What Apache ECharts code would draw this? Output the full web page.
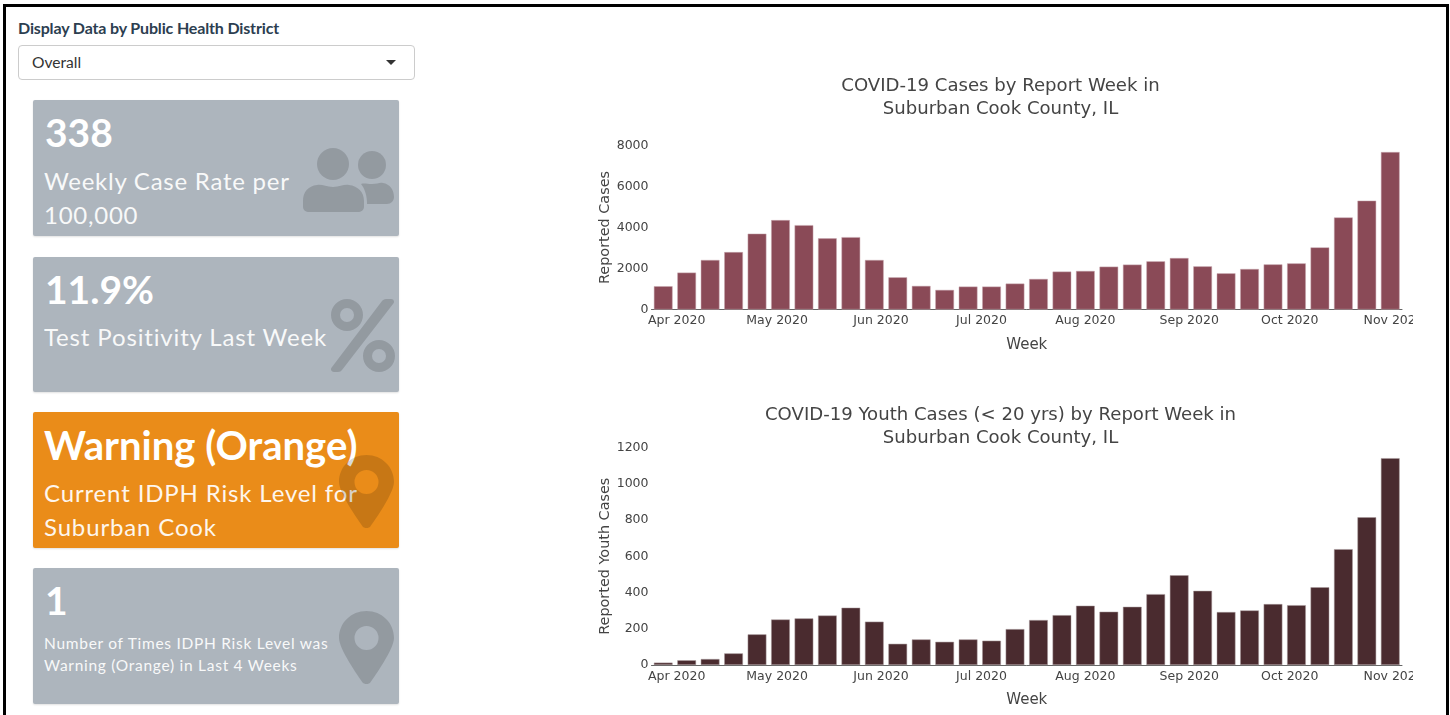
<!DOCTYPE html>
<html>
<head>
<meta charset="utf-8">
<title>Suburban Cook County COVID-19</title>
<script src="https://cdn.jsdelivr.net/npm/echarts@6/dist/echarts.min.js"></script>
<style>
  html, body { margin: 0; padding: 0; background: #fff; }
  body { width: 1450px; height: 715px; position: relative; overflow: hidden; font-family: Lato, sans-serif; }
  #frame { position: absolute; left: 3px; top: 4px; width: 1440px; height: 720px; border: 3px solid #000; }
  #filterLabel { position: absolute; left: 18px; top: 18px; font-size: 16px; font-weight: 700; color: #2c3e50; letter-spacing: -0.15px; white-space: nowrap; }
  #filter { position: absolute; left: 18px; top: 45px; width: 397px; height: 35px; box-sizing: border-box; border: 1px solid #ccc; border-radius: 4px; background: #fff; }
  #filter span { position: absolute; left: 13px; top: 7px; font-size: 15.6px; color: #333; }
  #filter i { position: absolute; left: 367px; top: 14px; border-style: solid; border-width: 5px 5px 0 5px; border-color: #333 transparent transparent transparent; }
  .card { position: absolute; left: 33px; width: 366px; height: 136px; background: #adb5bd; border-radius: 2px; color: #fff; box-shadow: 0 1px 2px rgba(0,0,0,.12); overflow: hidden; }
  .card.orange { background: #ea8c19; }
  .card b { position: absolute; left: 12px; top: 6px; font-size: 39px; line-height: 52px; font-weight: 700; white-space: nowrap; }
  .card p { position: absolute; left: 11px; margin: 0; font-size: 24px; line-height: 33.5px; letter-spacing: 0.85px; opacity: .92; white-space: nowrap; }
  .card svg { position: absolute; fill: rgba(0,0,0,.15); }
  #chart1 { position: absolute; left: 590px; top: 70px; width: 823px; height: 290px; }
  #chart2 { position: absolute; left: 590px; top: 400px; width: 823px; height: 315px; }
</style>
</head>
<body>
<div id="frame"></div>
<div id="filterLabel">Display Data by Public Health District</div>
<div id="filter"><span>Overall</span><i></i></div>

<div class="card" style="top:100px">
  <b>338</b>
  <p style="top:64px;letter-spacing:0.75px">Weekly Case Rate per<br>100,000</p>
  <svg style="left:270px;top:48px" width="92" height="65" viewBox="0 0 92 65">
    <circle cx="30" cy="16" r="16"/>
    <circle cx="69" cy="17" r="14"/>
    <path d="M14 37c5-1 9 2 16 2s11-3 16-2c9 1 15 7 15 16v6c0 3-3 5-6 5H6c-3 0-6-2-6-5v-6c0-9 5-15 14-16z"/>
    <path d="M58 36c3-1 6 0 11 0s8-2 11-1c7 1 11 7 11 14 0 4-3 7-7 7H64c0-8-2-15-6-20z"/>
  </svg>
</div>

<div class="card" style="top:257px;height:135px">
  <b>11.9%</b>
  <p style="top:63px">Test Positivity Last Week</p>
  <svg style="left:298px;top:42px" width="64" height="73" viewBox="0 0 64 73">
    <path fill-rule="evenodd" d="M16 0a16 16 0 1 0 0 32a16 16 0 1 0 0-32zM16 9a7 7 0 1 1 0 14a7 7 0 1 1 0-14z"/>
    <path fill-rule="evenodd" d="M48 41a16 16 0 1 0 0 32a16 16 0 1 0 0-32zM48 50a7 7 0 1 1 0 14a7 7 0 1 1 0-14z"/>
    <path d="M55 0h5c3 0 4 3 2 5L11 71c-1 1-2 2-4 2H3c-3 0-4-3-2-5L51 2c1-1 2-2 4-2z"/>
  </svg>
</div>

<div class="card orange" style="top:412px">
  <b style="top:7px;font-size:40.1px;left:11px">Warning (Orange)</b>
  <p style="top:64px;letter-spacing:0.85px">Current IDPH Risk Level for<br>Suburban Cook</p>
  <svg style="left:306px;top:43px" width="55" height="73" viewBox="0 0 55 73">
    <path fill-rule="evenodd" d="M27.5 0C12 0 0 12 0 27c0 11 19 38 24 45c2 1.500 5 1.500 7 0C36 65 55 38 55 27C55 12 43 0 27.500 0zM27.500 15a12 12 0 1 1 0 24a12 12 0 1 1 0-24z"/>
  </svg>
</div>

<div class="card" style="top:568px">
  <b>1</b>
  <p style="top:64px;font-size:15.5px;line-height:22px;letter-spacing:0.72px">Number of Times IDPH Risk Level was<br>Warning (Orange) in Last 4 Weeks</p>
  <svg style="left:306px;top:43px" width="55" height="73" viewBox="0 0 55 73">
    <path fill-rule="evenodd" d="M27.5 0C12 0 0 12 0 27c0 11 19 38 24 45c2 1.500 5 1.500 7 0C36 65 55 38 55 27C55 12 43 0 27.500 0zM27.500 15a12 12 0 1 1 0 24a12 12 0 1 1 0-24z"/>
  </svg>
</div>

<div id="chart1"></div>
<div id="chart2"></div>

<script>
  // week dates, one per bar
  var weeks = ['2020-03-28','2020-04-04','2020-04-11','2020-04-18','2020-04-25','2020-05-02','2020-05-09','2020-05-16',
    '2020-05-23','2020-05-30','2020-06-06','2020-06-13','2020-06-20','2020-06-27','2020-07-04','2020-07-11',
    '2020-07-18','2020-07-25','2020-08-01','2020-08-08','2020-08-15','2020-08-22','2020-08-29','2020-09-05',
    '2020-09-12','2020-09-19','2020-09-26','2020-10-03','2020-10-10','2020-10-17','2020-10-24','2020-10-31'];
  var reportedCases = [1135,1800,2415,2800,3700,4360,4115,3470,3530,2415,1570,1150,955,1118,1118,1265,
    1490,1850,1880,2090,2190,2350,2510,2105,1765,1976,2200,2250,3030,4490,5310,7680];
  var youthCases = [13,26,33,64,169,251,257,273,316,239,117,141,128,141,134,198,
    248,275,327,294,321,391,495,409,292,301,336,330,429,639,815,1141];
  var monthTicks = ['2020-04-01','2020-05-01','2020-06-01','2020-07-01','2020-08-01','2020-09-01','2020-10-01','2020-11-01'];
  var monthLabels = ['Apr 2020','May 2020','Jun 2020','Jul 2020','Aug 2020','Sep 2020','Oct 2020','Nov 2020'];

  var fontName = '"DejaVu Sans", Verdana, sans-serif';
  var halfWeek = 3.5 * 24 * 3600 * 1000;

  function toTime(s) {
    return Date.parse(s + 'T00:00:00Z');
  }

  function drawChart(id, cfg) {
    var myChart = echarts.init(document.getElementById(id));
    var tickTimes = monthTicks.map(toTime);
    var option = {
      animation: false,
      title: {
        text: cfg.title,
        left: 405.5,
        top: cfg.titleTop,
        textAlign: 'center',
        textStyle: { fontFamily: fontName, fontSize: 18.1, fontWeight: 'normal', color: '#444', lineHeight: 23 }
      },
      // the Nov label runs off the canvas and gets cut, so don't let the grid shrink for it
      grid: { left: 61.5, right: 11, top: cfg.gridTop, height: cfg.gridHeight, outerBoundsMode: 'none' },
      // value axis over timestamps, time axis can't take customValues
      xAxis: {
        type: 'value',
        min: toTime(weeks[0]) - halfWeek,
        max: toTime(weeks[weeks.length - 1]) + halfWeek,
        containShape: false,
        name: 'Week',
        nameLocation: 'middle',
        nameGap: 28,
        nameTextStyle: { fontFamily: fontName, fontSize: 15, color: '#444' },
        axisLine: { show: true, onZero: false, lineStyle: { color: '#666', width: 1 } },
        axisTick: { show: false },
        splitLine: { show: false },
        axisLabel: {
          customValues: tickTimes,
          margin: 5,
          hideOverlap: false,
          fontFamily: fontName,
          fontSize: 12.5,
          color: '#444',
          formatter: function (v) { return monthLabels[tickTimes.indexOf(v)]; }
        }
      },
      yAxis: {
        type: 'value',
        min: 0,
        max: cfg.max,
        interval: cfg.interval,
        name: cfg.yName,
        nameLocation: 'middle',
        nameGap: 39,
        nameMoveOverlap: false,
        nameTextStyle: { fontFamily: fontName, fontSize: 14.4, color: '#444' },
        axisLine: { show: false },
        axisTick: { show: false },
        splitLine: { show: false },
        axisLabel: {
          margin: 3,
          fontFamily: fontName,
          fontSize: 12.5,
          color: '#444',
          formatter: function (v) { return String(v); }
        }
      },
      series: [
        {
          type: 'bar',
          barWidth: 18.7,
          data: weeks.map(function (w, i) { return [toTime(w), cfg.values[i]]; }),
          itemStyle: { color: cfg.color, borderColor: cfg.edge, borderWidth: 0.5 }
        }
      ]
    };
    myChart.setOption(option);
  }

  drawChart('chart1', {
    title: 'COVID-19 Cases by Report Week in\nSuburban Cook County, IL',
    titleTop: 0,
    gridTop: 75.5,
    gridHeight: 164,
    max: 8000,
    interval: 2000,
    yName: 'Reported Cases',
    values: reportedCases,
    color: '#8a4a57',
    edge: '#c9a9b0'
  });
  drawChart('chart2', {
    title: 'COVID-19 Youth Cases (< 20 yrs) by Report Week in\nSuburban Cook County, IL',
    titleTop: -1,
    gridTop: 47.5,
    gridHeight: 217.5,
    max: 1200,
    interval: 200,
    yName: 'Reported Youth Cases',
    values: youthCases,
    color: '#4a2b2f',
    edge: '#a89a9c'
  });
</script>
</body>
</html>
